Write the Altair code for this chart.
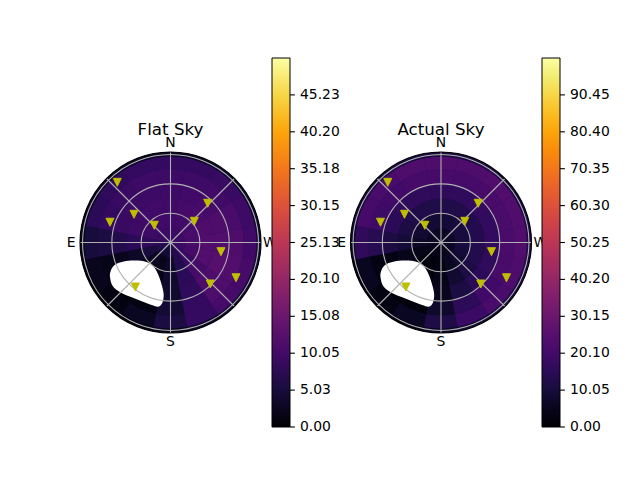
import math
import altair as alt
import pandas as pd

# ---------------- data ----------------
# sky brightness on a polar grid: rows = zenith rings, columns = azimuth bins
AZ_BIN_CENTERS = [0, 22.5, 45, 67.5, 90, 112.5, 135, 157.5,
                  180, 202.5, 225, 247.5, 270, 292.5, 315, 337.5]
AZ_BIN_HALF = 11.25
ZEN_EDGES = [0, 15, 30, 45, 60, 75, 88, 92.6]

FLAT_SKY = [
    [9.5, 9.5, 9.5, 9.0, 8.0, 6.5, 5.0, 4.5, 5.0, 6.5, 8.0, 9.0, 9.5, 9.5, 9.5, 9.5],
    [10.0, 10.0, 10.0, 9.5, 8.0, 5.0, 3.0, 2.5, 3.5, 6.5, 9.0, 10.5, 11.0, 11.0, 10.5, 10.0],
    [10.0, 10.0, 10.0, 9.5, 7.5, 3.5, 1.5, 2.0, 4.0, 7.5, 10.5, 12.0, 12.0, 11.5, 11.0, 10.5],
    [9.5, 9.5, 9.5, 9.0, 6.5, 2.5, 0.5, 1.5, 4.0, 8.0, 11.5, 12.5, 12.0, 11.5, 10.5, 10.0],
    [9.5, 9.5, 9.0, 8.5, 5.5, 2.0, 0.5, 1.5, 4.5, 8.5, 11.5, 12.0, 11.5, 11.0, 10.0, 9.5],
    [8.5, 8.5, 8.0, 7.5, 5.0, 2.5, 1.5, 3.0, 5.5, 8.5, 10.5, 10.5, 10.0, 9.5, 9.0, 8.5],
    [3.5, 3.5, 3.5, 3.0, 2.0, 1.0, 0.5, 1.0, 2.5, 3.5, 4.5, 4.5, 4.5, 4.0, 4.0, 3.5],
]
ACTUAL_SKY = [
    [6.0, 6.0, 6.0, 5.5, 5.0, 4.0, 3.0, 3.0, 3.5, 4.5, 5.5, 6.0, 6.5, 6.5, 6.5, 6.0],
    [9.0, 9.0, 9.0, 8.5, 7.0, 4.0, 2.0, 2.0, 3.0, 5.5, 8.0, 9.5, 10.0, 10.0, 10.0, 9.5],
    [12.5, 12.5, 12.5, 11.5, 9.5, 4.5, 1.5, 2.0, 4.0, 8.5, 11.5, 13.0, 13.0, 13.0, 13.0, 12.5],
    [16.0, 16.0, 16.0, 15.0, 11.5, 3.5, 0.5, 1.5, 5.0, 11.0, 15.0, 16.0, 16.5, 16.5, 16.5, 16.0],
    [21.0, 21.0, 20.0, 19.0, 14.0, 3.5, 0.5, 2.0, 7.5, 15.5, 20.0, 21.5, 22.0, 22.0, 21.5, 21.0],
    [23.0, 23.0, 22.0, 21.0, 16.0, 5.5, 3.0, 6.0, 12.0, 18.5, 22.0, 23.0, 23.5, 23.5, 23.5, 23.0],
    [11.0, 11.0, 10.5, 10.0, 7.5, 2.5, 1.5, 3.0, 6.0, 9.0, 11.0, 11.5, 11.5, 11.5, 11.5, 11.0],
]

STAR_AZ = [41.5, 316.5, 52.3, 71.5, 43.3, 311.7, 259.7, 241.7, 223.8, 141.7]
STAR_ZEN = [82.2, 55.3, 47.2, 65.3, 24.2, 32.6, 52.5, 76.1, 58.8, 58.0]

MASK_AZ = [140.75]
MASK_ZEN = [54.2]

FLAT_MAX = 50.254
FLAT_TICKS = [0.0, 5.0254, 10.0508, 15.0762, 20.1016, 25.127, 30.1524, 35.1778, 40.2032, 45.2286]
ACTUAL_MAX = 100.502
ACTUAL_TICKS = [0.0, 10.0502, 20.1004, 30.1506, 40.2008, 50.251, 60.3012, 70.3514, 80.4016, 90.4518]

GRID_ZEN = [30, 60, 90]
SPOKE_AZ = [0, 45, 90, 135, 180, 225, 270, 315]
CARDINALS = ["N", "E", "S", "W"]
CARDINAL_AZ = [0, 90, 180, 270]
TITLES = ["Flat Sky", "Actual Sky"]

# ---------------- layout / style ----------------
W, H = 624, 464
RMAX = 92.6
RPIX = 90.5
K = RPIX / RMAX
CENTERS = [(162.5, 234.5), (433.0, 234.5)]
LABEL_R = 101.7
LEGEND_X = [264, 534]
LEGEND_Y = 50
GRAD_LEN = 369
GRAD_W = 18
TICK_LEN = 4.9
FONT = "DejaVu Sans"
GRID_COLOR = "#b0b0b0"
STAR_COLOR = "#bfbf00"
BASE_FILL = "#2a0b57"
EDGE_NUDGE = 1e-6  # keeps the end label vertically centred on its tick

# outline of the masked (white) region, as a symbol shape (px relative to its centre)
MASK_OUTLINE = [(-27, -6.5), (-26.3, -12.5), (-23, -18), (-17, -21), (-8.7, -22.8),
                (1.3, -23), (9.7, -21.5), (16.3, -17.2), (21.3, -8.8), (24.7, 1.2),
                (26.7, 11.2), (25.3, 19.5), (21.3, 23.2), (14.7, 21.5), (4.7, 17.8),
                (-5.3, 13.8), (-16, 9.2), (-24.3, 2.5)]
MASK_SCALE = 30.0


def catmull_path(pts, s):
    p = [(x / s, y / s) for x, y in pts]
    n = len(p)
    d = "M%.4f,%.4f" % p[0]
    for i in range(n):
        p0, p1, p2, p3 = p[i - 1], p[i], p[(i + 1) % n], p[(i + 2) % n]
        c1 = (p1[0] + (p2[0] - p0[0]) / 6, p1[1] + (p2[1] - p0[1]) / 6)
        c2 = (p2[0] - (p3[0] - p1[0]) / 6, p2[1] - (p3[1] - p1[1]) / 6)
        d += "C%.4f,%.4f %.4f,%.4f %.4f,%.4f" % (c1 + c2 + p2)
    return d + "Z"


MASK_PATH = catmull_path(MASK_OUTLINE, MASK_SCALE)
STAR_PATH = "M0,1L1,-1L-1,-1Z"

XS = alt.Scale(domain=[0, W], nice=False, zero=False)
YS = alt.Scale(domain=[0, H], nice=False, zero=False, reverse=True)
RS = alt.Scale(type="linear", domain=[0, RMAX], range=[0, RPIX], nice=False)
TS = alt.Scale(domain=[0, 360], range=[2 * math.pi, 0], nice=False, zero=False)


def pos(chart, cx, cy, az="az", zen="zen", xn="x", yn="y"):
    return chart.transform_calculate(
        **{xn: f"{cx} - {K} * datum.{zen} * sin(datum.{az} * PI / 180)",
           yn: f"{cy} - {K} * datum.{zen} * cos(datum.{az} * PI / 180)"}
    )


def heat_df(grid):
    rows = []
    for i in range(len(ZEN_EDGES) - 1):
        for j, az in enumerate(AZ_BIN_CENTERS):
            rows.append({"a0": az - AZ_BIN_HALF, "a1": az + AZ_BIN_HALF,
                         "z0": ZEN_EDGES[i], "z1": ZEN_EDGES[i + 1], "v": grid[i][j]})
    return pd.DataFrame(rows)


def circle(z, cx, cy, **mark):
    return alt.Chart(pd.DataFrame({"z": z})).mark_arc(**mark).encode(
        x=alt.value(cx), y=alt.value(cy),
        theta=alt.value(0), theta2=alt.value(2 * math.pi),
        radius=alt.Radius("z:Q", scale=RS, stack=False),
    )


def panel(grid, vmax, ticks, title, cx, cy, lx):
    layers = []
    layers.append(circle([RMAX], cx, cy, color=BASE_FILL))

    cscale = alt.Scale(scheme="inferno", domain=[0, vmax], nice=False, zero=False)
    legend_values = [max(t, EDGE_NUDGE) for t in ticks]
    heat = alt.Chart(heat_df(grid)).mark_arc().encode(
        x=alt.value(cx), y=alt.value(cy),
        theta=alt.Theta("a0:Q", scale=TS, stack=False),
        theta2=alt.Theta2("a1:Q"),
        radius=alt.Radius("z1:Q", scale=RS, stack=False),
        radius2=alt.Radius2("z0:Q"),
        color=alt.Color("v:Q", scale=cscale, legend=alt.Legend(
            type="gradient", orient="none", legendX=lx, legendY=LEGEND_Y,
            direction="vertical",
            gradientLength=GRAD_LEN, gradientThickness=GRAD_W,
            gradientStrokeColor="black", gradientStrokeWidth=1,
            values=legend_values, format=".2f", title=None, padding=0,
            labelFont=FONT, labelFontSize=13.9, labelColor="black",
            labelOffset=10, labelBaseline="middle", labelOverlap=False)),
    )
    layers.append(heat)

    # colorbar tick marks, placed through a scale matching the gradient
    cb_scale = alt.Scale(domain=[0, vmax], range=[LEGEND_Y + GRAD_LEN, LEGEND_Y],
                         nice=False, zero=False)
    cb_ticks = alt.Chart(pd.DataFrame({"t": ticks})).mark_rule(
        color="black", strokeWidth=1.1
    ).encode(
        y=alt.Y("t:Q", scale=cb_scale, axis=None),
        x=alt.value(lx + GRAD_W), x2=alt.value(lx + GRAD_W + TICK_LEN),
    )
    layers.append(cb_ticks)

    mask = pos(alt.Chart(pd.DataFrame({"az": MASK_AZ, "zen": MASK_ZEN})), cx, cy).mark_point(
        shape=MASK_PATH, filled=True, color="white", opacity=1,
        size=(2 * MASK_SCALE) ** 2, strokeWidth=0
    ).encode(x=alt.X("x:Q", scale=XS, axis=None), y=alt.Y("y:Q", scale=YS, axis=None))
    layers.append(mask)

    layers.append(circle(GRID_ZEN, cx, cy, filled=False, stroke=GRID_COLOR, strokeWidth=1.1))

    spokes = pos(pos(alt.Chart(pd.DataFrame({"az": SPOKE_AZ, "z0": [0] * len(SPOKE_AZ),
                                             "z1": [RMAX] * len(SPOKE_AZ)})),
                     cx, cy, zen="z0", xn="x0", yn="y0"),
                 cx, cy, zen="z1", xn="x1", yn="y1").mark_rule(
        color=GRID_COLOR, strokeWidth=1.1
    ).encode(
        x=alt.X("x0:Q", scale=XS, axis=None), y=alt.Y("y0:Q", scale=YS, axis=None),
        x2="x1:Q", y2="y1:Q",
    )
    layers.append(spokes)

    layers.append(circle([RMAX], cx, cy, filled=False, stroke="black", strokeWidth=1.1))

    stars = pos(alt.Chart(pd.DataFrame({"az": STAR_AZ, "zen": STAR_ZEN})), cx, cy).mark_point(
        shape=STAR_PATH, filled=True, color=STAR_COLOR, opacity=1, size=64,
        stroke=STAR_COLOR, strokeWidth=1
    ).encode(x=alt.X("x:Q", scale=XS, axis=None), y=alt.Y("y:Q", scale=YS, axis=None))
    layers.append(stars)

    labels = pos(alt.Chart(pd.DataFrame({"lab": CARDINALS, "az": CARDINAL_AZ,
                                         "zen": [LABEL_R] * 4})), cx, cy).mark_text(
        font=FONT, fontSize=13.9, align="center", baseline="middle", color="black"
    ).encode(x=alt.X("x:Q", scale=XS, axis=None), y=alt.Y("y:Q", scale=YS, axis=None),
             text="lab:N")
    layers.append(labels)

    ttl = alt.Chart(pd.DataFrame({"t": [title]})).mark_text(
        font=FONT, fontSize=16.7, align="center", baseline="alphabetic", color="black"
    ).encode(x=alt.value(cx), y=alt.value(126.5), text="t:N")
    layers.append(ttl)
    return layers


layers = []
layers += panel(FLAT_SKY, FLAT_MAX, FLAT_TICKS, TITLES[0], CENTERS[0][0], CENTERS[0][1], LEGEND_X[0])
layers += panel(ACTUAL_SKY, ACTUAL_MAX, ACTUAL_TICKS, TITLES[1], CENTERS[1][0], CENTERS[1][1], LEGEND_X[1])

chart = alt.layer(*layers).resolve_scale(
    color="independent", y="independent"
).properties(
    width=W, height=H, padding=0, background="white",
    autosize=alt.AutoSizeParams(type="none"),
).configure_view(stroke=None)

chart.save("out.html", embed_options={"renderer": "svg", "actions": False})
